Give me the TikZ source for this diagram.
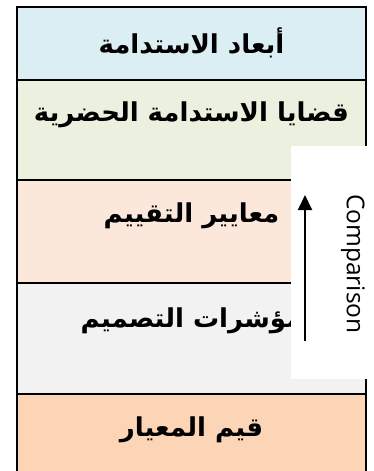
\documentclass[tikz,border=0pt]{standalone}
\usepackage{fontspec}
\usepackage{tikz}
\usetikzlibrary{arrows.meta,positioning}
\TeXXeTstate=1
\newfontfamily\arabicfont[Script=Arabic]{DejaVu Sans}
\newfontfamily\cmpfont{Open Sans}
\newcommand{\ar}[1]{{\arabicfont\bfseries\beginR #1\endR}}
\definecolor{dimblue}{RGB}{219,238,244}
\definecolor{issgreen}{RGB}{235,241,222}
\definecolor{critpeach}{RGB}{252,232,218}
\definecolor{indgray}{RGB}{242,242,242}
\definecolor{valorange}{RGB}{251,213,181}
\tikzset{
  %Define style for table rows
  row/.style={
    rectangle,
    draw=black, line width=1.6pt,
    minimum width=349pt,
    inner sep=0pt, outer sep=0pt},
  %Define style for row texts
  rowtext/.style={
    font=\fontsize{26}{29}\selectfont,
    inner sep=0pt},
  % Define arrow style
  pil/.style={
    -{Triangle[width=14pt,length=15pt]},
    line width=2pt}
}

\begin{document}
\begin{tikzpicture}[x=1pt,y=1pt]
  \clip (0,0) rectangle (373,-471);
  \node[row, fill=dimblue, minimum height=73pt, anchor=north west] (dims) at (17,-7) {};
  \node[row, fill=issgreen, minimum height=100pt, below=0pt of dims] (issues) {};
  \node[row, fill=critpeach, minimum height=103pt, below=0pt of issues] (crit) {};
  \node[row, fill=indgray, minimum height=111pt, below=0pt of crit] (ind) {};
  \node[row, fill=valorange, minimum height=100pt, below=0pt of ind] (vals) {};
  \draw[line width=2.4pt] (vals.south west) -- (dims.north west) -- (dims.north east) -- (vals.south east);
  \node[rowtext] (dimsT) at ([yshift=-36pt]dims.north) {\ar{أبعاد الاستدامة}};
  \node[rowtext] (issuesT) at ([yshift=-35pt]issues.north) {\ar{قضايا الاستدامة الحضرية}};
  \node[rowtext] (critT) at ([yshift=-36pt]crit.north) {\ar{معايير التقييم}};
  \node[rowtext] (indT) at ([yshift=-38pt]ind.north) {\ar{مؤشرات التصميم}};
  \node[rowtext] (valsT) at ([yshift=-36pt]vals.north) {\ar{قيم المعيار}};
  \node[fill=white, minimum width=90pt, minimum height=233pt, inner sep=0pt, anchor=north west] (cmpbox) at (291,-146) {};
  \coordinate (tail) at (305,-341);
  \coordinate (head) at (305,-195);
  \draw[pil] (tail) -- (head);
  \node[rotate=-90, font=\cmpfont\fontsize{24.5}{26}\selectfont, inner sep=0pt] (cmp) at (353,-264) {Comparison};
\end{tikzpicture}
\end{document}
